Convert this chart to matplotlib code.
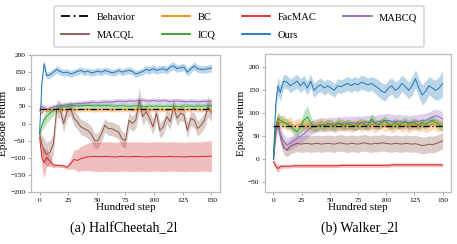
import numpy as np
import matplotlib
matplotlib.use("Agg")
import matplotlib.pyplot as plt

plt.rcParams['font.family'] = ['Liberation Serif', 'DejaVu Serif']
plt.rcParams['mathtext.fontset'] = 'stix'

steps = [0, 2, 4, 6, 9, 12, 15, 18, 21, 24, 27, 30, 33, 36, 39, 42, 45, 48, 51, 54,
         57, 60, 63, 66, 69, 72, 75, 78, 81, 84, 87, 90, 93, 96, 99, 102, 105, 108,
         111, 114, 117, 120, 123, 126, 129, 132, 135, 138, 141, 144, 147, 150]

# ---------------- HalfCheetah_2l ----------------
hc_behavior = 42
hc_ours = [-30, 120, 175, 140, 142, 150, 158, 152, 148, 150, 145, 148, 152, 155, 150, 153, 148, 150,
           153, 150, 155, 152, 148, 150, 155, 150, 153, 155, 152, 145, 148, 152, 158, 155, 160, 155,
           158, 160, 155, 165, 168, 160, 163, 165, 150, 160, 168, 160, 158, 158, 160, 162]
hc_ours_sd = [5, 12, 10, 10, 10, 10, 11, 10, 10, 10, 10, 10, 10, 10, 10, 10, 10, 10,
              10, 10, 10, 10, 10, 10, 10, 10, 10, 10, 10, 10, 10, 10, 11, 11, 11, 11,
              11, 11, 11, 12, 12, 11, 11, 11, 12, 11, 12, 11, 11, 11, 11, 11]
hc_bc = [35, 30, 42, 40, 39, 40, 41, 40, 39, 40, 41, 40, 39, 40, 40, 41, 40, 39, 40, 40,
         41, 40, 39, 40, 40, 41, 40, 40, 39, 40, 41, 40, 40, 39, 40, 41, 40, 40, 39, 40,
         40, 41, 40, 39, 40, 40, 41, 40, 39, 40, 41, 40]
hc_bc_sd = [6] * 52
hc_facmac = [-40, -100, -115, -100, -110, -122, -122, -123, -124, -128, -118, -105, -108, -103,
             -100, -97, -97, -96, -97, -97, -96, -97, -97, -98, -97, -96, -97, -97, -97, -96,
             -97, -97, -98, -97, -97, -96, -97, -97, -97, -96, -97, -97, -97, -98, -97, -96,
             -97, -97, -96, -96, -96, -95]
hc_facmac_sd = [10, 30, 45, 25, 15, 8, 5, 5, 5, 6, 15, 28, 32, 36, 38, 40, 42, 43, 43, 43,
                43, 43, 43, 43, 43, 43, 43, 43, 43, 43, 43, 43, 43, 43, 43, 43, 43, 43, 43, 43,
                43, 43, 43, 43, 43, 43, 43, 43, 43, 44, 44, 45]
hc_mabcq = [40, 50, 45, 42, 45, 48, 50, 52, 53, 55, 55, 57, 58, 58, 60, 60, 62, 62, 60, 62,
            63, 63, 62, 64, 65, 65, 64, 66, 65, 66, 67, 68, 66, 65, 67, 66, 65, 67, 66, 64,
            65, 66, 65, 64, 63, 65, 64, 63, 64, 65, 64, 65]
hc_mabcq_sd = [6, 10, 8, 8, 8, 8, 8, 8, 8, 8, 8, 8, 8, 8, 8, 8, 8, 8, 8, 8,
               8, 8, 8, 8, 8, 8, 8, 8, 8, 8, 8, 8, 8, 8, 8, 8, 8, 8, 8, 8,
               8, 8, 8, 8, 8, 8, 8, 8, 8, 8, 8, 8]
hc_icq = [-30, -5, 10, 20, 30, 38, 43, 47, 50, 50, 52, 52, 51, 52, 52, 53, 52, 51, 52, 51,
          52, 52, 51, 50, 51, 52, 51, 50, 51, 52, 51, 50, 50, 51, 50, 51, 50, 50, 51, 50,
          51, 50, 50, 51, 50, 51, 50, 51, 50, 51, 52, 52]
hc_icq_sd = [10, 15, 20, 20, 18, 15, 12, 11, 10, 10, 10, 9, 9, 9, 9, 9, 9, 8, 8, 8,
             8, 8, 8, 8, 8, 8, 8, 8, 8, 8, 8, 8, 8, 8, 8, 8, 8, 8, 8, 8,
             8, 8, 8, 8, 8, 8, 8, 8, 8, 8, 8, 8]
hc_macql = [-30, -60, -80, -90, -85, -60, 45, 40, 0, 35, 45, 15, 5, -10, -15, -20, -30, -50,
            -50, -30, -5, -15, -15, -20, -25, -45, -50, 10, 0, 10, 70, 20, 35, 15, -10, 30,
            -20, -10, 20, 5, 50, 15, 30, 25, -20, 15, 10, -15, -5, 10, 50, 30]
hc_macql_sd = [10, 25, 35, 35, 35, 30, 25, 25, 25, 22, 22, 22, 22, 22, 22, 22, 22, 22,
               22, 22, 20, 20, 20, 20, 20, 22, 22, 22, 22, 25, 35, 25, 22, 22, 22, 22,
               22, 22, 22, 22, 25, 22, 22, 22, 22, 22, 22, 22, 22, 22, 30, 25]

# ---------------- Walker_2l ----------------
wk_behavior = 72
wk_ours = [0, 120, 160, 145, 170, 168, 160, 165, 170, 160, 168, 155, 170, 150, 158, 162, 155, 160,
           155, 150, 160, 158, 162, 165, 160, 165, 162, 168, 165, 162, 165, 160, 155, 148, 145, 155,
           160, 150, 155, 165, 158, 150, 160, 175, 155, 140, 148, 160, 155, 150, 155, 165]
wk_ours_sd = [3, 20, 20, 18, 15, 15, 15, 15, 15, 15, 15, 15, 15, 15, 15, 15, 15, 15,
              15, 15, 15, 15, 15, 15, 15, 15, 15, 15, 15, 15, 15, 17, 18, 18, 18, 18,
              18, 18, 18, 18, 18, 18, 20, 20, 20, 22, 22, 20, 20, 22, 25, 28]
wk_bc = [0, 70, 85, 80, 82, 75, 80, 70, 75, 78, 72, 75, 70, 72, 75, 78, 72, 74, 76, 70,
         73, 77, 72, 75, 70, 74, 78, 72, 75, 73, 76, 70, 74, 78, 72, 75, 70, 73, 77, 72,
         75, 70, 74, 76, 72, 75, 70, 73, 77, 74, 72, 75]
wk_bc_sd = [3, 15, 15, 15, 14, 13, 13, 13, 13, 12, 12, 12, 12, 12, 12, 12, 12, 12, 12, 12,
            12, 12, 12, 12, 12, 12, 12, 12, 12, 12, 12, 12, 12, 12, 12, 12, 12, 12, 12, 12,
            12, 12, 12, 12, 12, 12, 12, 12, 12, 12, 12, 12]
wk_facmac = [-5, -15, -20, -16, -15, -15, -15, -14, -14, -14, -14, -14, -14, -14, -14, -14,
             -14, -14, -14, -14, -14, -13, -13, -13, -13, -13, -13, -13, -13, -13, -13, -13,
             -13, -13, -13, -13, -12, -12, -12, -12, -12, -12, -12, -12, -12, -12, -12, -12,
             -12, -12, -12, -12]
wk_facmac_sd = [8, 8, 8, 5, 4, 4, 4, 4, 4, 4, 4, 4, 4, 4, 4, 4, 4, 4, 4, 4,
                4, 4, 4, 4, 4, 4, 4, 4, 4, 4, 4, 4, 4, 4, 4, 4, 4, 4, 4, 4,
                4, 4, 4, 4, 4, 4, 4, 4, 4, 4, 4, 4]
wk_mabcq = [0, 60, 75, 55, 40, 32, 35, 40, 45, 50, 55, 62, 68, 72, 74, 75, 76, 75, 77, 76,
            78, 77, 79, 78, 80, 78, 80, 79, 81, 80, 82, 80, 82, 83, 85, 84, 83, 82, 83, 81,
            82, 80, 81, 82, 83, 84, 85, 88, 92, 95, 92, 88]
wk_mabcq_sd = [3, 15, 15, 15, 15, 15, 15, 15, 15, 15, 15, 15, 15, 15, 15, 15, 15, 15, 15, 15,
               15, 15, 15, 15, 15, 15, 15, 15, 15, 15, 15, 15, 15, 15, 15, 15, 15, 15, 15, 15,
               15, 15, 15, 15, 15, 15, 15, 15, 15, 15, 15, 15]
wk_icq = [0, 70, 90, 85, 80, 78, 72, 65, 60, 70, 85, 92, 80, 70, 72, 75, 73, 78, 75, 72,
          80, 76, 74, 78, 75, 72, 75, 80, 76, 74, 88, 78, 75, 80, 85, 76, 74, 80, 75, 78,
          82, 76, 80, 78, 74, 80, 76, 82, 85, 80, 75, 70]
wk_icq_sd = [3, 12, 12, 10, 10, 10, 10, 10, 10, 12, 20, 25, 15, 10, 10, 10, 10, 10, 10, 10,
             10, 10, 10, 10, 10, 10, 10, 10, 10, 10, 12, 10, 10, 10, 10, 10, 10, 10, 10, 10,
             10, 10, 10, 10, 10, 10, 10, 10, 10, 10, 10, 10]
wk_macql = [0, 60, 85, 50, 25, 20, 28, 32, 35, 33, 34, 35, 33, 34, 35, 33, 34, 35, 34, 33,
            35, 36, 34, 33, 35, 34, 33, 35, 36, 34, 33, 35, 34, 36, 35, 34, 33, 35, 34, 33,
            35, 34, 33, 34, 32, 30, 31, 33, 32, 34, 37, 40]
wk_macql_sd = [3, 15, 15, 15, 15, 15, 16, 17, 18, 18, 18, 18, 18, 18, 18, 18, 18, 18, 18, 18,
               18, 18, 18, 18, 18, 18, 18, 18, 18, 18, 18, 18, 18, 18, 18, 18, 18, 18, 18, 18,
               18, 18, 18, 18, 18, 18, 18, 18, 18, 18, 18, 18]

method_colors = {"BC": "#ff7f0e", "FacMAC": "#d62728", "MABCQ": "#9467bd",
                 "MACQL": "#8c564b", "ICQ": "#2ca02c", "Ours": "#1f77b4"}
behavior_ls = (0, (5, 2, 1, 2))

panels = [
    dict(title="(a) HalfCheetah_2l", behavior=hc_behavior, ylim=(-200, 200),
         yticks=[-200, -150, -100, -50, 0, 50, 100, 150, 200],
         series={"BC": (hc_bc, hc_bc_sd), "FacMAC": (hc_facmac, hc_facmac_sd),
                 "MABCQ": (hc_mabcq, hc_mabcq_sd), "MACQL": (hc_macql, hc_macql_sd),
                 "ICQ": (hc_icq, hc_icq_sd), "Ours": (hc_ours, hc_ours_sd)},
         rect=[31 / 457, 1 - 192 / 244, 189 / 457, 137 / 244], cap_x=0.27),
    dict(title="(b) Walker_2l", behavior=wk_behavior, ylim=(-71, 229),
         yticks=[-50, 0, 50, 100, 150, 200],
         series={"BC": (wk_bc, wk_bc_sd), "FacMAC": (wk_facmac, wk_facmac_sd),
                 "MABCQ": (wk_mabcq, wk_mabcq_sd), "MACQL": (wk_macql, wk_macql_sd),
                 "ICQ": (wk_icq, wk_icq_sd), "Ours": (wk_ours, wk_ours_sd)},
         rect=[265 / 457, 1 - 192 / 244, 186 / 457, 138 / 244], cap_x=0.786),
]

fig = plt.figure(figsize=(4.57, 2.44), dpi=100)
x = np.array(steps)
for p in panels:
    ax = fig.add_axes(p["rect"])
    order = ["MACQL", "FacMAC", "MABCQ", "BC", "ICQ", "Ours"]
    for name in order:
        m = np.array(p["series"][name][0], float)
        s = np.array(p["series"][name][1], float)
        c = method_colors[name]
        ax.fill_between(x, m - s, m + s, color=c, alpha=0.3, lw=0)
        ax.plot(x, m, color=c, lw=0.7)
    ax.plot([x[0], x[-1]], [p["behavior"], p["behavior"]], color="black", lw=0.9, ls=behavior_ls)
    ax.set_xlim(-7.5, 157.5)
    ax.set_ylim(*p["ylim"])
    ax.set_xticks([0, 25, 50, 75, 100, 125, 150])
    ax.set_yticks(p["yticks"])
    ax.tick_params(labelsize=5.3, length=2.5, width=0.6, color="#999999", pad=1.5)
    for sp in ax.spines.values():
        sp.set_color("#bbbbbb")
        sp.set_linewidth(0.9)
    ax.set_xlabel("Hundred step", fontsize=8, labelpad=0)
    ax.set_ylabel("Episode return", fontsize=8, labelpad=1.5)
    fig.text(p["cap_x"], 0.065, p["title"], fontsize=10, ha="center", va="center")

leg_order = ["Behavior", "MACQL", "BC", "ICQ", "FacMAC", "Ours", "MABCQ"]
leg_h = []
for n in leg_order:
    if n == "Behavior":
        leg_h.append(plt.Line2D([], [], color="black", lw=1.3, ls=behavior_ls))
    else:
        leg_h.append(plt.Line2D([], [], color=method_colors[n], lw=1.3))
leg = fig.legend(leg_h, leg_order, loc="upper center", bbox_to_anchor=(0.523, 0.998),
                 ncol=4, fontsize=7.6, frameon=True, fancybox=True, edgecolor="#cccccc",
                 handlelength=2.7, columnspacing=2.5, handletextpad=0.7, borderpad=0.65,
                 labelspacing=0.8)
leg.get_frame().set_linewidth(1.2)

fig.savefig("out.png", dpi=100)
